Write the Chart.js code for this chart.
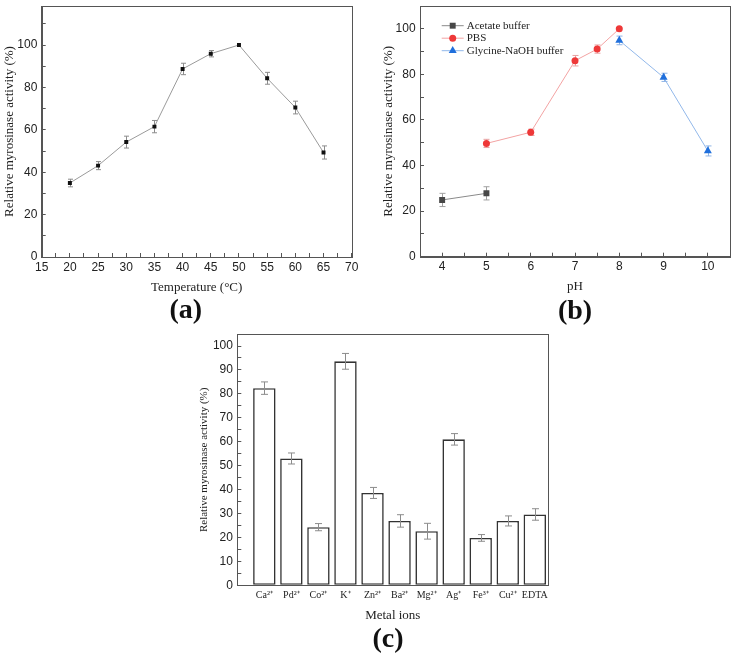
<!DOCTYPE html>
<html>
<head>
<meta charset="utf-8">
<script src="https://cdn.jsdelivr.net/npm/chart.js@4.4.1/dist/chart.umd.min.js"></script>
<style>
  body { margin: 0; background: #fff; width: 737px; height: 659px; position: relative; overflow: hidden; }
  canvas { position: absolute; }
</style>
</head>
<body>
<canvas id="temp" width="370" height="330" style="left:0;top:0"></canvas>
<canvas id="ph" width="367" height="330" style="left:370px;top:0"></canvas>
<canvas id="metal" width="400" height="339" style="left:180px;top:320px"></canvas>
<script>
// (a) temperature
const temps = [20, 25, 30, 35, 40, 45, 50, 55, 60, 65];
const tempActivity = [34.9, 43.1, 54.2, 61.5, 88.7, 95.9, 100, 84.3, 70.5, 49.3];
const tempErr = [1.8, 1.9, 2.8, 2.9, 2.7, 1.5, 0, 2.8, 3.0, 3.1];

// (b) pH, one list per buffer
const acetatePH = [4, 5];
const acetateActivity = [24.9, 27.8];
const acetateErr = [2.9, 2.9];
const pbsPH = [5, 6, 7, 7.5, 8];
const pbsActivity = [49.7, 54.6, 86.0, 91.1, 100];
const pbsErr = [1.8, 1.4, 2.3, 1.8, 0];
const glyPH = [8, 9, 10];
const glyActivity = [94.9, 78.7, 46.4];
const glyErr = [1.9, 1.8, 2.2];

// (c) metal ions
const ions = ['Ca²⁺', 'Pd²⁺', 'Co²⁺', 'K⁺', 'Zn²⁺', 'Ba²⁺', 'Mg²⁺', 'Ag⁺', 'Fe³⁺', 'Cu²⁺', 'EDTA'];
const ionActivity = [82.4, 53.0, 24.3, 93.6, 38.6, 26.9, 22.6, 61.0, 19.8, 26.9, 29.6];
const ionErr = [2.6, 2.3, 1.5, 3.3, 2.3, 2.6, 3.3, 2.4, 1.4, 2.1, 2.4];

const sans = 'Liberation Sans, Arial, sans-serif';
const serif = 'Liberation Serif, Times New Roman, serif';
const axisColor = '#555';
const textColor = '#222';

function range(a, b, step) {
    let out = [];
    for (let v = a; v <= b + 1e-9; v += step) out.push(+v.toFixed(2));
    return out;
}

function points(xs, ys) {
    return xs.map((x, i) => ({ x: x, y: ys[i] }));
}

// error bars drawn from the y scale of each chart
function drawErrors(chart) {
    const ctx = chart.ctx;
    const y = chart.scales.y;
    chart.data.datasets.forEach((ds, i) => {
        if (!ds.errors) return;
        const meta = chart.getDatasetMeta(i);
        ctx.save();
        ctx.strokeStyle = ds.errorColor;
        ctx.lineWidth = 1;
        meta.data.forEach((el, j) => {
            const e = ds.errors[j];
            if (!e) return;
            const v = ds.data[j].y;
            const top = y.getPixelForValue(v + e);
            const bot = y.getPixelForValue(v - e);
            const x = Math.round(el.x) + 0.5;
            const c = ds.capWidth / 2;
            ctx.beginPath();
            ctx.moveTo(x, top); ctx.lineTo(x, bot);
            ctx.moveTo(x - c, top); ctx.lineTo(x + c, top);
            ctx.moveTo(x - c, bot); ctx.lineTo(x + c, bot);
            ctx.stroke();
        });
        ctx.restore();
    });
}

const errorBars = {
    id: 'errorBars',
    beforeDatasetsDraw(chart) { if (chart.config.type === 'line') drawErrors(chart); },
    afterDatasetsDraw(chart) { if (chart.config.type === 'bar') drawErrors(chart); }
};

// box round the plot + the (a)/(b)/(c) label
const frame = {
    id: 'frame',
    afterDraw(chart, args, opts) {
        const ctx = chart.ctx;
        const a = chart.chartArea;
        ctx.save();
        ctx.strokeStyle = axisColor;
        ctx.lineWidth = 1;
        ctx.strokeRect(Math.round(a.left) + 0.5, Math.round(a.top) + 0.5, Math.round(a.right - a.left), Math.round(a.bottom - a.top));
        if (opts.text) {
            ctx.fillStyle = '#111';
            ctx.font = 'bold 28px ' + serif;
            ctx.textAlign = 'center';
            ctx.textBaseline = 'middle';
            ctx.fillText(opts.text, opts.x, opts.y);
        }
        ctx.restore();
    }
};

// legend of panel (b), drawn inside the plot
const innerLegend = {
    id: 'innerLegend',
    afterDraw(chart, args, opts) {
        if (!opts.show) return;
        const ctx = chart.ctx;
        ctx.save();
        chart.data.datasets.forEach((ds, i) => {
            const y = opts.y + i * opts.rowGap;
            ctx.strokeStyle = ds.borderColor;
            ctx.lineWidth = 1;
            ctx.beginPath();
            ctx.moveTo(opts.x, y); ctx.lineTo(opts.x + 22, y);
            ctx.stroke();
            ctx.fillStyle = ds.pointBackgroundColor;
            ctx.strokeStyle = ds.pointBorderColor;
            Chart.helpers.drawPoint(ctx, { pointStyle: ds.pointStyle, radius: ds.pointRadius, rotation: 0, borderWidth: 0 }, opts.x + 11, y);
            ctx.fillStyle = textColor;
            ctx.font = '11px ' + serif;
            ctx.textAlign = 'left';
            ctx.textBaseline = 'middle';
            ctx.fillText(ds.label, opts.x + 25, y);
        });
        ctx.restore();
    }
};

function linearAxis(min, max, ticks, labelStep, size, fontSize, titleText, titlePad, horizontal) {
    return {
        type: 'linear',
        min: min,
        max: max,
        offset: false,
        afterBuildTicks: s => { s.ticks = ticks.map(v => ({ value: v })); },
        afterFit: s => {
            if (horizontal) { s.height = size; s.paddingLeft = 0; s.paddingRight = 0; }
            else { s.width = size; s.paddingTop = 0; s.paddingBottom = 0; }
        },
        ticks: {
            autoSkip: false,
            maxRotation: 0,
            font: { family: sans, size: 12 },
            color: textColor,
            padding: horizontal ? 7 : 8.4,
            callback: v => (Math.abs(v / labelStep - Math.round(v / labelStep)) < 1e-6 ? v : '')
        },
        grid: { drawOnChartArea: false, offset: false, tickLength: -4, color: axisColor },
        border: { color: axisColor },
        title: {
            display: true,
            text: titleText,
            color: textColor,
            font: { family: serif, size: fontSize },
            padding: titlePad
        }
    };
}

const baseOptions = {
    responsive: false,
    animation: false,
    events: []
};

// (a)
new Chart(document.getElementById('temp'), {
    type: 'line',
    data: {
        datasets: [{
            label: 'Temperature',
            data: points(temps, tempActivity),
            borderColor: '#9a9a9a',
            borderWidth: 1,
            pointStyle: 'rect',
            pointRadius: 2.8,
            pointBackgroundColor: '#111',
            pointBorderColor: '#111',
            pointBorderWidth: 0,
            errors: tempErr,
            errorColor: '#8c8c8c',
            capWidth: 5
        }]
    },
    options: Object.assign({}, baseOptions, {
        layout: { padding: { top: 6, right: 18.3, bottom: 33, left: 0 } },
        scales: {
            x: linearAxis(15, 70, range(15, 70, 2.5), 5, 40, 13, 'Temperature (°C)', { top: 0, bottom: 2 }, true),
            y: linearAxis(0, 118.4, range(0, 110, 10), 20, 41.7, 13, 'Relative myrosinase activity (%)', { top: 1.5, bottom: 0 }, false)
        },
        plugins: {
            legend: { display: false },
            tooltip: { enabled: false },
            frame: { text: '(a)', x: 185.7, y: 311 },
            innerLegend: { show: false }
        }
    }),
    plugins: [errorBars, frame, innerLegend]
});

// (b)
new Chart(document.getElementById('ph'), {
    type: 'line',
    data: {
        datasets: [{
            label: 'Acetate buffer',
            data: points(acetatePH, acetateActivity),
            borderColor: '#8a8a8a',
            borderWidth: 1,
            pointStyle: 'rect',
            pointRadius: 4.2,
            pointBackgroundColor: '#474747',
            pointBorderColor: '#474747',
            pointBorderWidth: 0,
            errors: acetateErr,
            errorColor: '#a0a0a0',
            capWidth: 6
        }, {
            label: 'PBS',
            data: points(pbsPH, pbsActivity),
            borderColor: '#f3a3a3',
            borderWidth: 1,
            pointStyle: 'circle',
            pointRadius: 3.5,
            pointBackgroundColor: '#ee3838',
            pointBorderColor: '#ee3838',
            pointBorderWidth: 0,
            errors: pbsErr,
            errorColor: '#e8a0a0',
            capWidth: 6
        }, {
            label: 'Glycine-NaOH buffer',
            data: points(glyPH, glyActivity),
            borderColor: '#92b8ea',
            borderWidth: 1,
            pointStyle: 'triangle',
            pointRadius: 4.6,
            pointBackgroundColor: '#1f6fdc',
            pointBorderColor: '#1f6fdc',
            pointBorderWidth: 0,
            errors: glyErr,
            errorColor: '#8fb4e6',
            capWidth: 6
        }]
    },
    options: Object.assign({}, baseOptions, {
        layout: { padding: { top: 6, right: 7, bottom: 33.3, left: 0 } },
        scales: {
            x: linearAxis(3.5, 10.5, range(4, 10, 0.5), 1, 40, 13, 'pH', { top: 0, bottom: 2 }, true),
            y: linearAxis(0, 110, range(0, 110, 10), 20, 50, 13, 'Relative myrosinase activity (%)', { top: 10.5, bottom: 0 }, false)
        },
        plugins: {
            legend: { display: false },
            tooltip: { enabled: false },
            frame: { text: '(b)', x: 205, y: 311.7 },
            innerLegend: { show: true, x: 71.7, y: 25.7, rowGap: 12.5 }
        }
    }),
    plugins: [errorBars, frame, innerLegend]
});

// (c)
const ionX = linearAxis(0, 11.5, range(1, 11, 1), 1, 40, 13, 'Metal ions', { top: 0, bottom: 1.5 }, true);
ionX.ticks.callback = v => ions[v - 1] || '';
ionX.ticks.font = { family: serif, size: 10 };
ionX.ticks.padding = 4;
ionX.grid = { display: false, drawTicks: false, offset: false };

new Chart(document.getElementById('metal'), {
    type: 'bar',
    data: {
        datasets: [{
            label: 'Metal ions',
            data: points(range(1, 11, 1), ionActivity),
            backgroundColor: '#fff',
            borderColor: '#333',
            borderWidth: 1.6,
            borderSkipped: false,
            barPercentage: 0.83,
            categoryPercentage: 1,
            errors: ionErr,
            errorColor: '#8c8c8c',
            capWidth: 7
        }]
    },
    options: Object.assign({}, baseOptions, {
        layout: { padding: { top: 14.3, right: 31.7, bottom: 33.7, left: 0 } },
        scales: {
            x: ionX,
            y: linearAxis(0, 104.9, range(0, 100, 5), 10, 57.3, 11, 'Relative myrosinase activity (%)', { top: 17.2, bottom: 0 }, false)
        },
        plugins: {
            legend: { display: false },
            tooltip: { enabled: false },
            frame: { text: '(c)', x: 208, y: 319.3 },
            innerLegend: { show: false }
        }
    }),
    plugins: [errorBars, frame, innerLegend]
});
</script>
</body>
</html>
